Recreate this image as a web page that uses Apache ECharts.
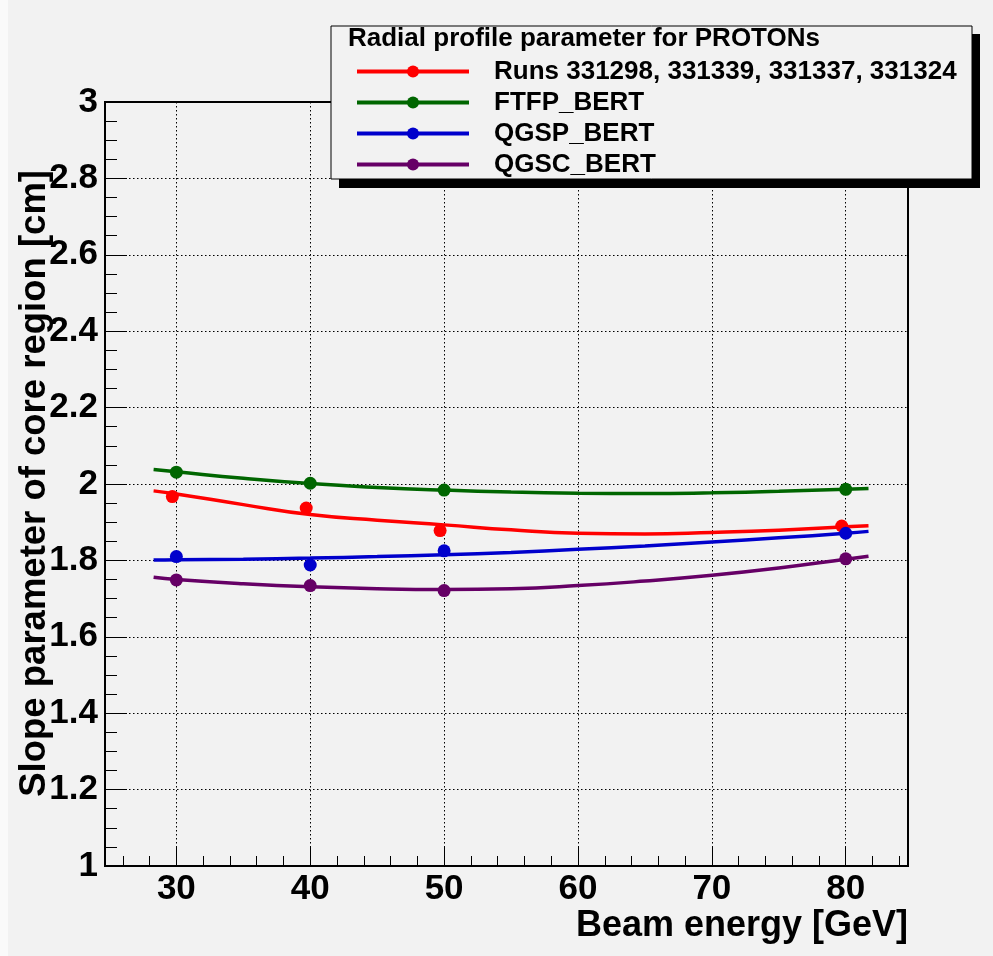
<!DOCTYPE html>
<html>
<head>
<meta charset="utf-8">
<script src="https://cdn.jsdelivr.net/npm/echarts@6/dist/echarts.min.js"></script>
<style>
  html, body { margin: 0; padding: 0; background: #fff; }
  #chart { width: 993px; height: 956px; }
</style>
</head>
<body>
<div id="chart"></div>
<script>
// axis ranges and ticks
var xRange = [24.67, 84.65];
var xMajorTicks = [30, 40, 50, 60, 70, 80];
var xMinorTicks = [26, 28, 32, 34, 36, 38, 42, 44, 46, 48, 52, 54, 56, 58, 62, 64, 66, 68, 72, 74, 76, 78, 82, 84];
var yRange = [1, 3];

var names = ['Runs 331298, 331339, 331337, 331324', 'FTFP_BERT', 'QGSP_BERT', 'QGSC_BERT'];
var colors = ['#ff0000', '#006600', '#0000cc', '#660066'];

// measured points
var runsX = [29.7, 39.7, 49.7, 79.7];
var simX = [30, 40, 50, 80];
var runsY = [1.967, 1.937, 1.878, 1.890];
var ftfpY = [2.031, 2.002, 1.984, 1.986];
var qgspY = [1.810, 1.788, 1.825, 1.871];
var qgscY = [1.749, 1.734, 1.721, 1.804];

// fit curves
var fitX = [28.3, 30, 35, 40, 45, 50, 55, 60, 65, 70, 75, 80, 81.7];
var runsFit = [1.982, 1.974, 1.946, 1.920, 1.905, 1.893, 1.880, 1.871, 1.869, 1.873, 1.879, 1.888, 1.891];
var ftfpFit = [2.038, 2.032, 2.015, 2.001, 1.991, 1.984, 1.979, 1.976, 1.975, 1.977, 1.981, 1.986, 1.988];
var qgspFit = [1.801, 1.802, 1.803, 1.806, 1.810, 1.815, 1.821, 1.829, 1.838, 1.848, 1.859, 1.871, 1.876];
var qgscFit = [1.756, 1.750, 1.739, 1.731, 1.726, 1.724, 1.726, 1.734, 1.746, 1.761, 1.780, 1.803, 1.811];

var FONT = '"Liberation Sans", Arial, Helvetica, sans-serif';

function pairs(xs, ys) {
    return xs.map(function (x, i) { return [x, ys[i]]; });
}

var pointSets = [pairs(runsX, runsY), pairs(simX, ftfpY), pairs(simX, qgspY), pairs(simX, qgscY)];
var fitSets = [runsFit, ftfpFit, qgspFit, qgscFit];

var series = [];
names.forEach(function (name, i) {
    series.push({
        name: name,
        type: 'line',
        data: pairs(fitX, fitSets[i]),
        smooth: true,
        showSymbol: false,
        symbol: 'circle',
        symbolSize: 13,
        color: colors[i],
        lineStyle: { width: 3.5, color: colors[i] },
        silent: true,
        z: 2
    });
});
names.forEach(function (name, i) {
    series.push({
        name: name,
        type: 'scatter',
        data: pointSets[i],
        symbol: 'circle',
        symbolSize: 13,
        itemStyle: { color: colors[i], opacity: 1 },
        z: 3
    });
});

var chart = echarts.init(document.getElementById('chart'));
chart.setOption({
    backgroundColor: '#f2f2f2',
    animation: false,
    textStyle: { fontFamily: FONT },
    grid: {
        left: 105, top: 102, right: 85, bottom: 90,
        show: true, borderColor: '#000', borderWidth: 2, backgroundColor: 'transparent'
    },
    xAxis: [{
        type: 'value',
        min: xRange[0], max: xRange[1],
        axisLine: { lineStyle: { color: '#000', width: 2 } },
        axisTick: { inside: true, length: 20, customValues: xMajorTicks, lineStyle: { color: '#000', width: 1 } },
        axisLabel: {
            customValues: xMajorTicks, margin: 6,
            color: '#000', fontSize: 35, fontWeight: 'bold', fontFamily: FONT
        },
        splitLine: { show: true, lineStyle: { color: '#000', width: 1, type: [1.5, 2.5] } }
    }, {
        type: 'value',
        min: xRange[0], max: xRange[1],
        position: 'bottom',
        axisLine: { show: false },
        axisTick: { inside: true, length: 10, customValues: xMinorTicks, lineStyle: { color: '#000', width: 1 } },
        axisLabel: { show: false },
        splitLine: { show: false }
    }],
    yAxis: {
        type: 'value',
        min: yRange[0], max: yRange[1], interval: 0.2,
        axisLine: { show: true, lineStyle: { color: '#000', width: 2 } },
        axisTick: { show: true, inside: true, length: 22, lineStyle: { color: '#000', width: 1 } },
        minorTick: { show: true, splitNumber: 4, length: 12, lineStyle: { color: '#000', width: 1 } },
        axisLabel: { margin: 7, color: '#000', fontSize: 35, fontWeight: 'bold', fontFamily: FONT },
        splitLine: { show: true, lineStyle: { color: '#000', width: 1, type: [1.5, 2.5] } }
    },
    legend: {
        data: names,
        orient: 'vertical',
        left: 355, top: 58.5,
        padding: 0,
        itemWidth: 112, itemHeight: 15, itemGap: 5,
        z: 20,
        lineStyle: { width: 4 },
        itemStyle: { opacity: 1 },
        textStyle: { color: '#000', fontSize: 26, fontWeight: 'bold', fontFamily: FONT, padding: [0, 0, 0, 20] },
        selectedMode: false
    },
    graphic: [
        { type: 'rect', z: 10, silent: true, shape: { x: 0, y: 0, width: 8, height: 956 }, style: { fill: '#fafafa' } },
        { type: 'rect', z: 10, silent: true, shape: { x: 339, y: 34, width: 641, height: 154 }, style: { fill: '#000' } },
        { type: 'rect', z: 11, silent: true, shape: { x: 331, y: 26, width: 641, height: 153 },
          style: { fill: '#f2f2f2', stroke: '#000', lineWidth: 1 } },
        { type: 'text', z: 12, silent: true, x: 348, y: 39,
          style: { text: 'Radial profile parameter for PROTONs', font: 'bold 26px ' + FONT, fill: '#000', align: 'left', verticalAlign: 'middle' } },
        { type: 'text', z: 12, silent: true, x: 908, y: 926,
          style: { text: 'Beam energy [GeV]', font: 'bold 36px ' + FONT, fill: '#000', align: 'right', verticalAlign: 'middle' } },
        { type: 'text', z: 12, silent: true, x: 35, y: 170, rotation: Math.PI / 2,
          style: { text: 'Slope parameter of core region [cm]', font: 'bold 36.5px ' + FONT, fill: '#000', align: 'right', verticalAlign: 'middle' } }
    ],
    series: series
});

window.addEventListener('resize', function () {
    chart.resize();
});
</script>
</body>
</html>
